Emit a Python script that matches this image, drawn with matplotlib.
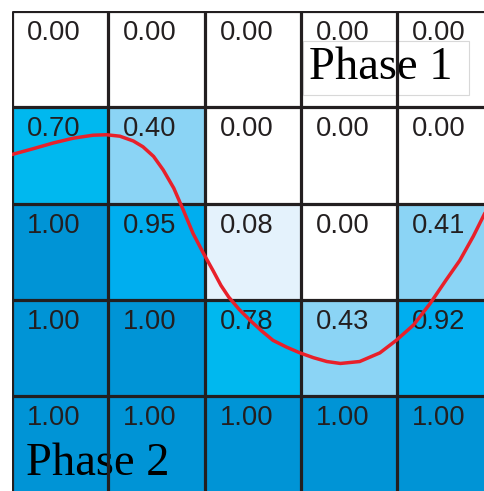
import numpy as np
import matplotlib
matplotlib.use('Agg')
import matplotlib.pyplot as plt
from matplotlib.colors import ListedColormap, BoundaryNorm

# cell values, top row first
values = [
    [0.00, 0.00, 0.00, 0.00, 0.00],
    [0.70, 0.40, 0.00, 0.00, 0.00],
    [1.00, 0.95, 0.08, 0.00, 0.41],
    [1.00, 1.00, 0.78, 0.43, 0.92],
    [1.00, 1.00, 1.00, 1.00, 1.00],
]

# discrete colour scale
bounds = [0.0, 0.05, 0.2, 0.6, 0.85, 0.99, 1.01]
colors = ['#ffffff', '#e4f2fc', '#8bd4f5', '#00b8ef', '#00aeef', '#0094d6']

# red curve (cell units, x to the right, y downward)
curve_x = [0.00, 0.22, 0.43, 0.64, 0.84, 0.98, 1.12, 1.26, 1.36, 1.47, 1.57, 1.68,
           1.78, 1.88, 1.99, 2.09, 2.17, 2.25, 2.36, 2.47, 2.59, 2.71, 2.85, 2.99,
           3.13, 3.27, 3.41, 3.61, 3.82, 3.99, 4.17, 4.34, 4.51, 4.65, 4.79, 4.89,
           5.00]
curve_y = [1.49, 1.43, 1.37, 1.32, 1.29, 1.285, 1.30, 1.35, 1.41, 1.51, 1.65, 1.84,
           2.07, 2.31, 2.52, 2.70, 2.85, 2.97, 3.10, 3.21, 3.32, 3.42, 3.49, 3.55,
           3.60, 3.64, 3.66, 3.64, 3.55, 3.42, 3.26, 3.04, 2.79, 2.59, 2.34, 2.14,
           1.92]

data = np.array(values)
n_rows, n_cols = data.shape

fig = plt.figure(figsize=(4.84, 4.91), dpi=100)
ax = fig.add_axes([12 / 484, 1 - 11 / 491 - 5 * 96.3 / 491, 5 * 96.3 / 484, 5 * 96.3 / 491])

cmap = ListedColormap(colors)
norm = BoundaryNorm(bounds, cmap.N)
ax.pcolormesh(np.arange(n_cols + 1), np.arange(n_rows + 1), data, cmap=cmap, norm=norm, zorder=1)

# numbers in the top left corner of each cell
for r in range(n_rows):
    for c in range(n_cols):
        ax.text(c + 0.155, r + 0.095, f'{data[r, c]:.2f}', ha='left', va='top',
                fontsize=19.7, family='Liberation Sans', color='#231f20', zorder=2)

# Phase labels
ax.text(3.08, 0.71, 'Phase 1 ', ha='left', va='baseline', fontsize=33.5,
        family='Liberation Serif', color='black', zorder=3,
        bbox=dict(boxstyle='square,pad=0.12', fc='white', ec='#d8d8d8', lw=0.8))
ax.text(0.145, 4.82, 'Phase 2', ha='left', va='baseline', fontsize=33.5,
        family='Liberation Serif', color='black', zorder=3)

# grid lines on top
ax.hlines(np.arange(n_rows + 1), 0, n_cols, color='#231f20', lw=2.3, zorder=4)
ax.vlines(np.arange(n_cols + 1), 0, n_rows, color='#231f20', lw=2.3, zorder=4)

ax.plot(curve_x, curve_y, color='#e8202a', lw=2.5, solid_capstyle='round',
        solid_joinstyle='round', zorder=5)

ax.set_xlim(0, n_cols)
ax.set_ylim(n_rows, 0)
ax.axis('off')

fig.savefig('out.png', dpi=100)
